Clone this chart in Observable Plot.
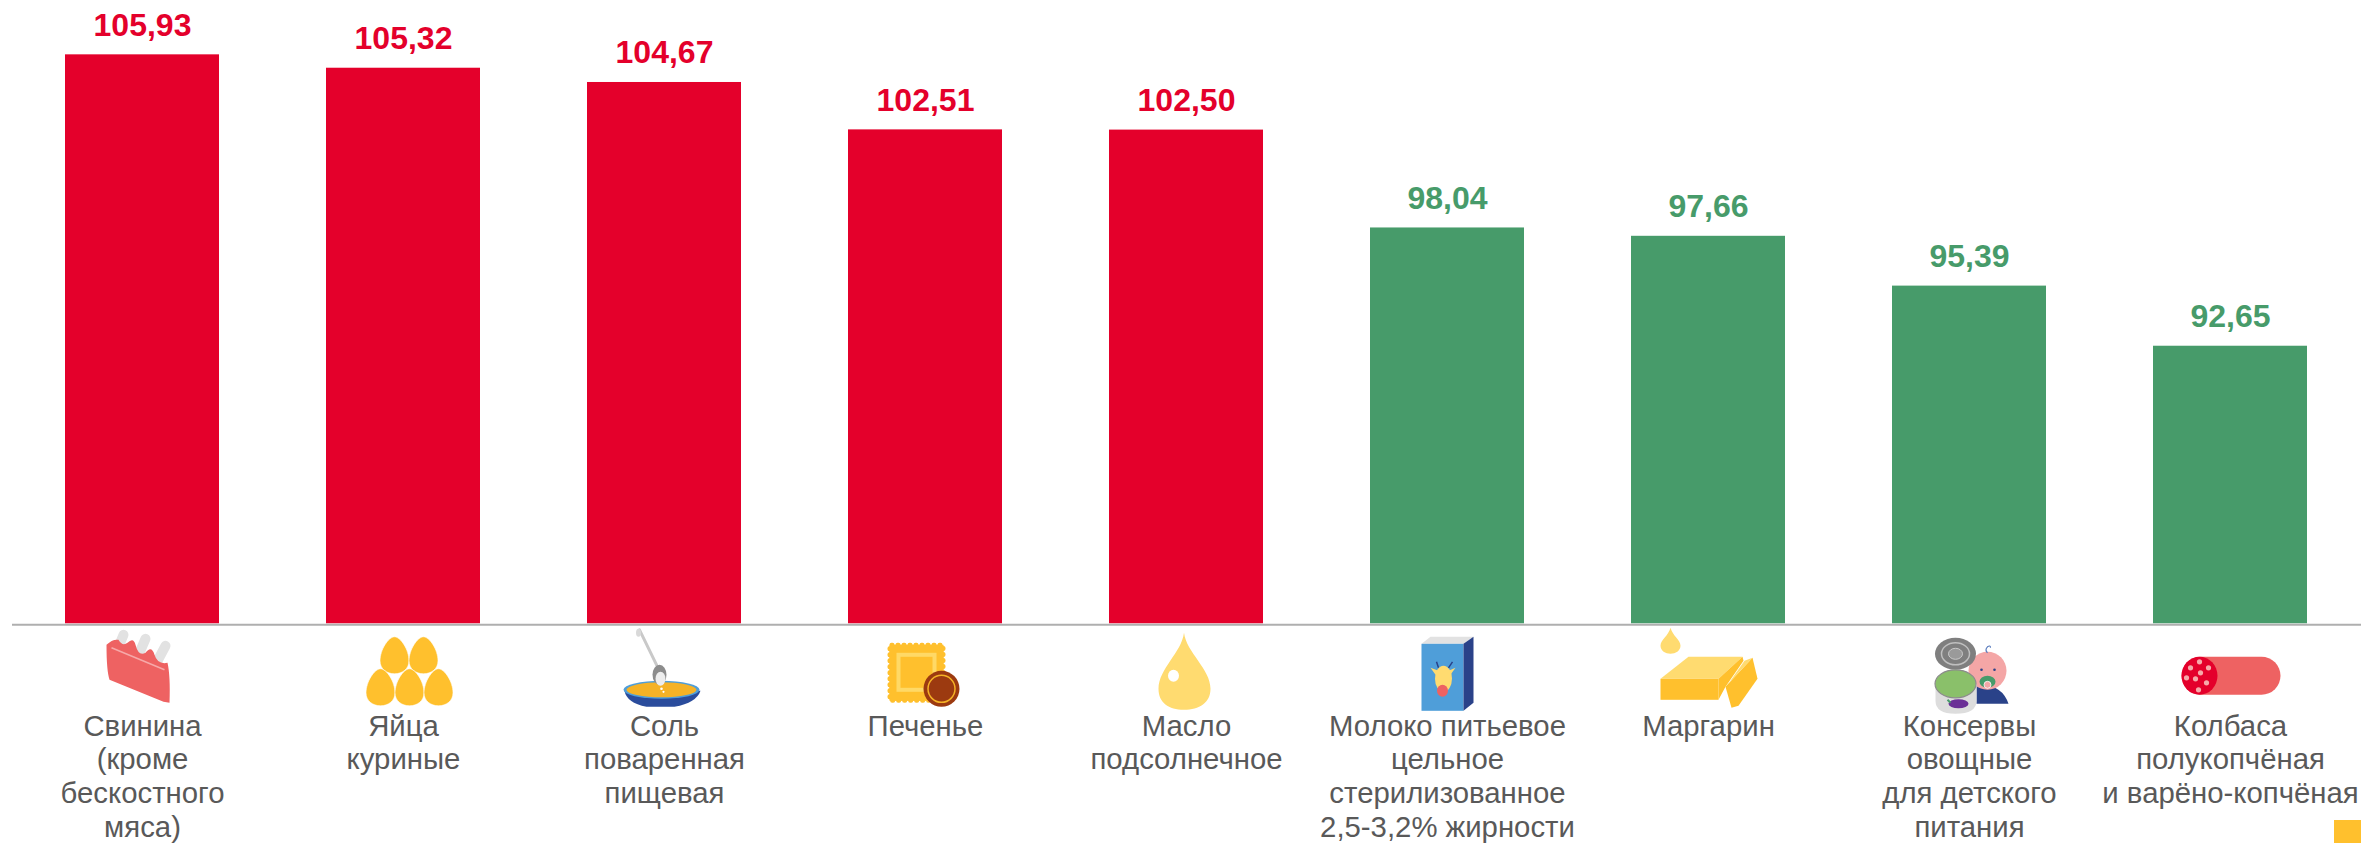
<!DOCTYPE html>
<html lang="ru">
<head>
<meta charset="utf-8">
<script src="https://cdn.jsdelivr.net/npm/d3@7"></script>
<script src="https://cdn.jsdelivr.net/npm/@observablehq/plot@0.6"></script>
<style>
html,body{margin:0;padding:0;background:#fff;width:2361px;height:843px;overflow:hidden}
#chart svg{display:block;background:#fff}
#corner{position:absolute;left:2334px;top:820px;width:27px;height:23px;background:#FFC02D}
</style>
</head>
<body>
<div id="chart"></div>
<div id="corner"></div>
<script>
const categories = [
  "Свинина\n(кроме\nбескостного\nмяса)",
  "Яйца\nкуриные",
  "Соль\nповаренная\nпищевая",
  "Печенье",
  "Масло\nподсолнечное",
  "Молоко питьевое\nцельное\nстерилизованное\n2,5-3,2% жирности",
  "Маргарин",
  "Консервы\nовощные\nдля детского\nпитания",
  "Колбаса\nполукопчёная\nи варёно-копчёная"
];
const values = [105.93, 105.32, 104.67, 102.51, 102.50, 98.04, 97.66, 95.39, 92.65];
const trends = ["up","up","up","up","up","down","down","down","down"];

const egg = (x,y)=>`<path transform="translate(${x},${y})" d="M0,0C6,0 14.5,13 14.5,24C14.5,32 8,37 0,37C-8,37 -14.5,32 -14.5,24C-14.5,13 -6,0 0,0Z" fill="#FFC02D" stroke="#fff" stroke-width=".6"/>`;
const icons = [
  // pork ribs
  `<g stroke="#E2E2E2" stroke-width="10" stroke-linecap="round"><path d="M-19,34L-24,46M3,38L-3,52M23,45L15,60"/></g>
   <path d="M-36,44Q-30,38 -24,39Q-20,46 -15,42Q-9,36 -7,44Q-4,56 3,52Q9,44 12,54Q15,64 25,62Q28,75 27,102L21,101L-33,79Q-36,70 -36,44Z" fill="#EE6262"/>
   <path d="M-31,47L22,69" stroke="#F6A9A9" stroke-width="1.5"/>`,
  // eggs
  egg(-9,36)+egg(20,36)+egg(-23,68)+egg(6,68)+egg(35,68),
  // salt bowl
  `<path d="M-40,90Q-38,102 -18,106L10,106Q32,102 36,90Z" fill="#2A4C9C"/>
   <ellipse cx="-3" cy="89" rx="38" ry="9" fill="#4F9ED9"/>
   <ellipse cx="-3" cy="89" rx="35" ry="7.5" fill="#F5B226"/>
   <path d="M-25,29L-6,68" stroke="#C9C9C9" stroke-width="3" stroke-linecap="round"/>
   <ellipse cx="-26" cy="32" rx="2.5" ry="4" fill="#D9D9D9"/>
   <ellipse cx="-5" cy="74" rx="7" ry="10" fill="#8C8C8C"/>
   <ellipse cx="-4" cy="78" rx="5" ry="7" fill="#EDEDED"/>
   <circle cx="-3" cy="88" r="1.3" fill="#fff"/><circle cx="-1" cy="91" r="1.1" fill="#fff"/>`,
  // biscuit
  `<rect x="-36" y="44" width="54" height="56" rx="2" fill="#FFC02D" stroke="#FFC02D" stroke-width="4" stroke-dasharray="1 5" stroke-linecap="round"/>
   <rect x="-36" y="44" width="54" height="56" fill="#FFC02D"/>
   <rect x="-27" y="54" width="36" height="35" fill="#FFC02D" stroke="#FFD966" stroke-width="4"/>
   <circle cx="16" cy="88" r="18" fill="#9C3A10"/>
   <circle cx="16" cy="88" r="13.5" fill="#9C3A10" stroke="#F5B226" stroke-width="1.5"/>`,
  // oil drop
  `<path d="M-2.5,32C0,52 24,68 24,88C24,102 13,109 -2.5,109C-18,109 -28,102 -28,88C-28,68 -5,52 -2.5,32Z" fill="#FFDB70"/>
   <ellipse cx="-13" cy="75" rx="5.5" ry="6" fill="#fff"/>`,
  // milk carton
  `<path d="M-26,43L-17,36L26,36L16,43Z" fill="#E2E2E2"/>
   <rect x="-26" y="43" width="42" height="67" fill="#4F9ED9"/>
   <path d="M16,43L26,36L26,102L16,110Z" fill="#2A4289"/>
   <path d="M-9,67L-11,61M1,67L5,61" stroke="#2A4289" stroke-width="1.5"/>
   <path d="M-9,70L-17,67L-12,74ZM1,70L8,67L3,74Z" fill="#FFDB70"/>
   <ellipse cx="-4" cy="78" rx="8.5" ry="13" fill="#FFDB70"/>
   <ellipse cx="-5" cy="90" rx="5.5" ry="6" fill="#EE6262"/>`,
  // margarine
  `<path d="M-38,27C-36,35 -28,39 -28,45C-28,50 -33,53 -38,53C-43,53 -48,50 -48,45C-48,39 -40,35 -38,27Z" fill="#FFDB70"/>
   <path d="M-48,78L-20,56L34,56L10,78Z" fill="#FFDB70"/>
   <rect x="-48" y="78" width="58" height="21" fill="#FFC02D"/>
   <path d="M10,78L34,56L35,60L17,86L10,99Z" fill="#FFC02D"/>
   <path d="M44,57L49,78L30,105L23,107L17,86Z" fill="#FFC02D"/>
   <path d="M44,57L17,86L22,80L36,60Z" fill="#FFDB70"/>`,
  // canned food & baby
  `<path d="M7,85Q32,82 39,103L7,103Z" fill="#2A4289"/>
   <ellipse cx="18" cy="70" rx="19" ry="19" fill="#F4A6A6"/>
   <path d="M18,52q-3,-3 0,-6q3,-2 3,1" fill="none" stroke="#5B7DBE" stroke-width="1.2"/>
   <circle cx="12" cy="69" r="1.3" fill="#2A4289"/><circle cx="25" cy="69" r="1.3" fill="#2A4289"/>
   <ellipse cx="18" cy="81" rx="8" ry="6" fill="#479B6A"/>
   <circle cx="18" cy="84" r="3.5" fill="#F4A6A6" stroke="#fff" stroke-width=".8"/>
   <ellipse cx="-14" cy="53" rx="20.5" ry="16" fill="#7F7F7F"/>
   <ellipse cx="-14" cy="53" rx="14" ry="11" fill="none" stroke="#BFBFBF" stroke-width="1.5"/>
   <ellipse cx="-14" cy="53" rx="7" ry="5.5" fill="#9A9A9A" stroke="#C9C9C9" stroke-width="1"/>
   <path d="M-34,83L-34,100Q-34,113 -14,113Q7,113 7,100L7,83Z" fill="#DDDDDD"/>
   <ellipse cx="-14" cy="83" rx="20.5" ry="14" fill="#8AC06A" stroke="#8C8C8C" stroke-width="1.2"/>
   <ellipse cx="-11" cy="103" rx="10" ry="4.5" fill="#6B2F96"/>
   <path d="M-22,99l3,3" stroke="#479B6A" stroke-width="2"/>`,
  // sausage
  `<rect x="-49" y="56" width="99" height="38" rx="19" fill="#EE6262"/>
   <ellipse cx="-31" cy="75" rx="18" ry="19" fill="#E4002B"/>
   <g fill="#F6A9A9"><circle cx="-31" cy="61" r="2.6"/><circle cx="-40" cy="67" r="2.6"/><circle cx="-22" cy="67" r="2.6"/><circle cx="-30" cy="72" r="2.6"/><circle cx="-44" cy="77" r="2.6"/><circle cx="-35" cy="78" r="2.6"/><circle cx="-24" cy="82" r="2.6"/><circle cx="-32" cy="89" r="2.6"/></g>`
];
const iconUrl = s => "data:image/svg+xml," + encodeURIComponent(
  `<svg xmlns="http://www.w3.org/2000/svg" viewBox="-70 0 140 130" width="140" height="130">${s}</svg>`);

const rows = categories.map((category,i)=>({category, value:values[i], trend:trends[i], icon:iconUrl(icons[i])}));
const fmt = d => d.value.toFixed(2).replace(".", ",");
const colorOf = {up:"#E4002B", down:"#479B6A"};

const chart = Plot.plot({
  width: 2361, height: 843,
  marginLeft: 12, marginRight: 0, marginTop: 0, marginBottom: 0,
  style: {background:"#fff", fontFamily:"'Liberation Sans', Arial, sans-serif"},
  x: {domain: categories, range: [11, 2360], paddingInner: 0.41, paddingOuter: 0.205, axis: null},
  y: {domain: [80, 106], range: [623.3, 52.8], axis: null},
  marks: [
    Plot.barY(rows, {x:"category", y:"value", y1:80, fill:d=>colorOf[d.trend]}),
    Plot.ruleY([80], {stroke:"#AFAFAF", strokeWidth:2, dy:1}),
    Plot.text(rows, {x:"category", y:"value", text:fmt, fill:d=>colorOf[d.trend], fontSize:32, fontWeight:"bold", lineAnchor:"bottom", dy:-19}),
    Plot.image(rows, {x:"category", y:()=>80, src:"icon", width:140, height:130, dy:42}),
    Plot.text(rows, {x:"category", y:()=>80, text:"category", fill:"#595959", fontSize:29.33, lineHeight:1.15, lineAnchor:"top", dy:88})
  ]
});
document.getElementById("chart").append(chart);
</script>
</body>
</html>
